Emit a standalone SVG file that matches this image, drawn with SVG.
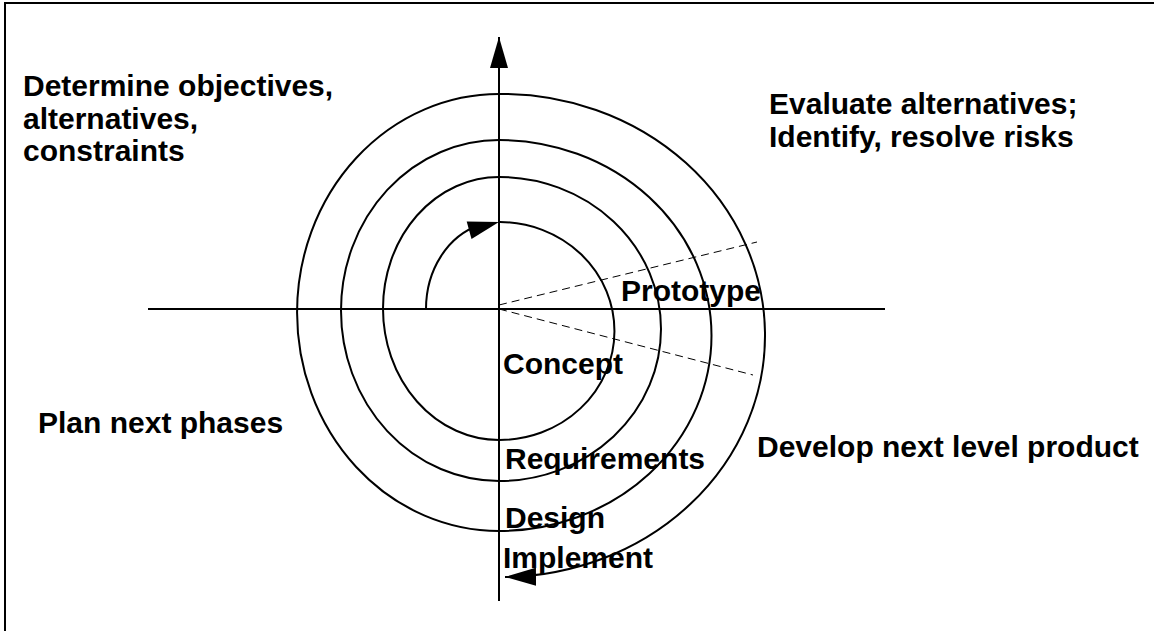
<svg xmlns="http://www.w3.org/2000/svg" width="1154" height="631" viewBox="0 0 1154 631">
  <style>
    .lbl { font-family: "Liberation Sans", Arial, sans-serif; font-weight: bold; font-size: 30px; fill: #000; }
    .ln { fill: none; stroke: #000; stroke-width: 2; }
    .dash { fill: none; stroke: #000; stroke-width: 1; stroke-dasharray: 8 5; }
    .head { fill: #000; stroke: none; }
  </style>
  <defs>
    <marker id="arr" markerUnits="userSpaceOnUse" markerWidth="31" markerHeight="18" viewBox="0 0 31 18" refX="31" refY="9" orient="auto">
      <path d="M0,0 L31,9 L0,18 z" fill="#000"/>
    </marker>
  </defs>
  <rect x="0" y="0" width="1154" height="631" fill="#fff"/>
  <rect x="5" y="3" width="1200" height="700" fill="none" stroke="#000" stroke-width="2"/>

  <g id="connectors">
    <line class="ln" x1="148" y1="309" x2="885" y2="309"/>
    <path class="ln" d="M499,601 L499,37" marker-end="url(#arr)"/>
    <path class="dash" d="M499,305 L757,242"/>
    <path class="dash" d="M499,309 L753,375"/>
    <path class="ln" d="M426,309 A73,87 0 0,1 480,225"/>
    <polygon class="head" points="499,222 466.7,221.5 471.5,238.9"/>
    <path class="ln" d="M500,222 A115,109 0 0,1 499,440 A116,131.5 0 0,1 499,177 A162,152 0 0,1 499,481 A158,170.5 0 0,1 499,140 A212.5,195.5 0 0,1 499,531 A202,218.5 0 0,1 499,94 A263,241.5 0 0,1 505,577" marker-end="url(#arr)"/>
  </g>

  <g id="quadrant-tl">
    <text class="lbl" x="23" y="96">Determine objectives,</text>
    <text class="lbl" x="23" y="129">alternatives,</text>
    <text class="lbl" x="23" y="161">constraints</text>
  </g>
  <g id="quadrant-tr">
    <text class="lbl" x="769" y="114">Evaluate alternatives;</text>
    <text class="lbl" x="769" y="147">Identify, resolve risks</text>
  </g>
  <g id="quadrant-bl">
    <text class="lbl" x="38" y="433">Plan next phases</text>
  </g>
  <g id="quadrant-br">
    <text class="lbl" x="757" y="457">Develop next level product</text>
  </g>
  <g id="prototype">
    <text class="lbl" x="621" y="301">Prototype</text>
  </g>
  <g id="concept">
    <text class="lbl" x="503" y="374">Concept</text>
  </g>
  <g id="requirements">
    <text class="lbl" x="505" y="469">Requirements</text>
  </g>
  <g id="design">
    <text class="lbl" x="505" y="528">Design</text>
  </g>
  <g id="implement">
    <text class="lbl" x="503" y="568">Implement</text>
  </g>
</svg>
